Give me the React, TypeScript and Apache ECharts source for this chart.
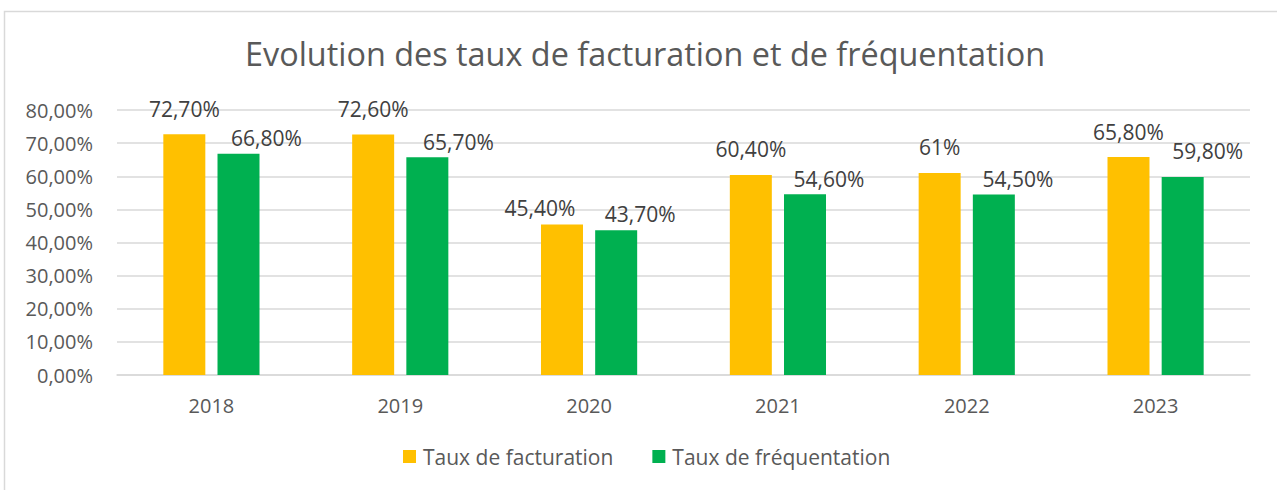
import React, { useEffect, useRef } from "react";
import * as echarts from "echarts";

const categories = ["2018", "2019", "2020", "2021", "2022", "2023"];
const facturation = [72.7, 72.6, 45.4, 60.4, 61, 65.8];
const frequentation = [66.8, 65.7, 43.7, 54.6, 54.5, 59.8];
const seriesNames = ["Taux de facturation", "Taux de fréquentation"];
const title = "Evolution des taux de facturation et de fréquentation";

const FONT = "'Open Sans', sans-serif";
const TXT = "#595959";

const fmtLabel = (v: number) =>
  Number.isInteger(v) ? `${v}%` : `${v.toFixed(2).replace(".", ",")}%`;
const fmtAxis = (v: number) => `${v.toFixed(2).replace(".", ",")}%`;

export default function App() {
  const ref = useRef<HTMLDivElement>(null);
  useEffect(() => {
    if (!ref.current) return;
    const chart = echarts.init(ref.current, undefined, { renderer: "svg" });
    // label placement tweaks (as moved in the original spreadsheet chart)
    const factShift = [0, 0, -22, 0, 0, 0];
    const factDist = [15, 15, 6, 15, 15, 15];
    const freqShift = [28, 31, 24, 24, 24, 25];
    const freqDist = [5, 5, 6, 5, 5, 15];
    const mk = (vals: number[], shift: number[], dist: number[]) =>
      vals.map((v, i) => ({
        value: v,
        label: { distance: dist[i], offset: [shift[i], 0] },
      }));
    const labelBase = {
      show: true,
      position: "top",
      fontFamily: FONT,
      fontSize: 21,
      color: "#404040",
      formatter: (p: any) => fmtLabel(p.value),
    };
    chart.setOption({
      animation: false,
      backgroundColor: "#ffffff",
      title: {
        text: title,
        left: 240,
        top: 32,
        textStyle: { fontFamily: FONT, fontSize: 32.4, fontWeight: "normal", color: TXT },
      },
      graphic: [
        {
          type: "polyline",
          shape: { points: [[4.5, 500], [4.5, 11.5], [1290, 11.5]] },
          style: { stroke: "#d9d9d9", lineWidth: 1.5, fill: null },
        },
      ],
      legend: {
        bottom: 18,
        left: 398,
        itemWidth: 13,
        itemHeight: 13,
        itemGap: 39,
        icon: "rect",
        textStyle: { fontFamily: FONT, fontSize: 21, color: TXT, padding: [0, 0, 0, 2] },
      },
      grid: { left: 117, right: 27, top: 110, bottom: 115, containLabel: false },
      xAxis: {
        type: "category",
        data: categories,
        axisLine: { lineStyle: { color: "#d9d9d9", width: 1.5 } },
        axisTick: { show: false },
        axisLabel: { fontFamily: FONT, fontSize: 20, color: TXT, margin: 20 },
      },
      yAxis: {
        type: "value",
        min: 0,
        max: 80,
        interval: 10,
        axisLine: { show: false },
        axisTick: { show: false },
        splitLine: { lineStyle: { color: "#d9d9d9", width: 1.5 } },
        axisLabel: {
          fontFamily: FONT,
          fontSize: 20,
          color: TXT,
          margin: 24,
          formatter: fmtAxis,
        },
      },
      series: [
        {
          name: seriesNames[0],
          type: "bar",
          data: mk(facturation, factShift, factDist),
          itemStyle: { color: "#FFC000" },
          barWidth: 42,
          barGap: "29%",
          label: labelBase,
        },
        {
          name: seriesNames[1],
          type: "bar",
          data: mk(frequentation, freqShift, freqDist),
          itemStyle: { color: "#00B050" },
          barWidth: 42,
          barGap: "29%",
          label: labelBase,
        },
      ],
    });
    return () => chart.dispose();
  }, []);
  return (
    <div
      ref={ref}
      style={{ position: "absolute", left: 0, top: 0, width: 1277, height: 490 }}
    />
  );
}
